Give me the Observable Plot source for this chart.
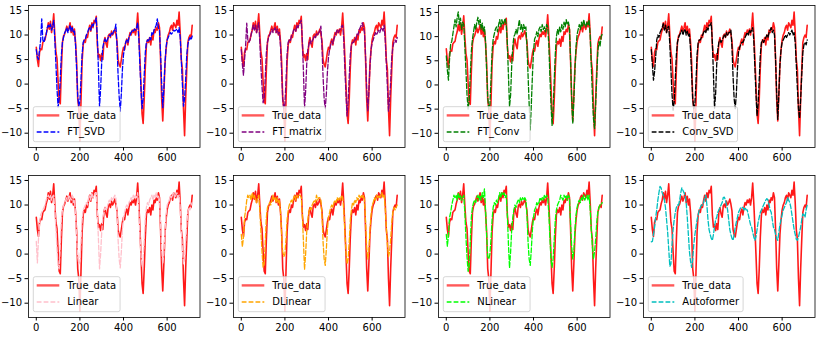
<!DOCTYPE html>
<html><head><meta charset="utf-8">
<script src="https://cdn.jsdelivr.net/npm/d3@7"></script>
<script src="https://cdn.jsdelivr.net/npm/@observablehq/plot@0.6"></script>
<style>
body{margin:0;background:#fff;}
#wrap{position:relative;width:822px;height:342px;font-family:"DejaVu Sans",sans-serif;}
.panel{position:absolute;width:205px;height:170px;}
</style></head><body><div id="wrap"></div>
<script>
const step = 5;
const trueData = [
7.5, 5.0, 3.6, 6.5, 7.2, 7.0, 8.5, 8.8, 9.0, 10.2, 11.0, 12.5,
11.2, 12.8, 10.5, 12.0, 14.3, 10.0, 6.5, 5.2, 0.5, -3.5, -4.0, 3.0,
8.5, 9.8, 10.2, 11.0, 11.8, 10.8, 11.5, 12.5, 10.5, 11.8, 10.0, 11.2,
8.5, 4.5, -3.0, -5.0, -11.6, -3.5, 4.5, 8.0, 9.0, 8.5, 10.0, 9.5,
11.0, 12.0, 10.8, 12.5, 11.5, 13.0, 12.5, 13.8, 8.0, 5.5, 6.0, 4.8,
6.2, 5.0, 8.5, 9.5, 8.2, 7.5, 9.8, 10.2, 9.5, 10.8, 10.0, 10.5,
11.2, 10.2, 8.8, 5.0, 4.0, 3.5, 5.0, 6.5, 7.5, 7.0, 8.5, 9.2,
8.0, 9.5, 10.5, 10.0, 11.0, 10.5, 11.2, 10.0, 11.5, 14.5, 10.5, 5.5,
0.0, -6.0, -8.0, -3.0, 3.5, 8.0, 9.0, 8.5, 9.5, 8.0, 10.0, 9.0,
11.0, 10.5, 11.5, 11.0, 12.5, 11.5, 5.0, -3.0, -7.5, -2.0, 4.0, 7.0,
9.0, 10.0, 10.5, 11.5, 12.0, 11.0, 12.5, 12.0, 11.5, 13.0, 12.0, 14.7,
10.5, 5.0, 3.0, -5.0, -10.5, -3.0, 3.0, 8.5, 9.5, 10.0, 9.5, 12.0];
const ftSVD = [
7.0, 5.5, 5.0, 7.0, 9.0, 13.3, 9.0, 8.5, 9.5, 10.0, 11.5, 12.0,
11.5, 12.2, 11.0, 11.8, 13.0, 9.0, 4.0, -1.0, -4.7, -3.0, 1.0, 6.0,
8.5, 9.5, 10.5, 10.8, 11.5, 10.5, 11.2, 12.0, 10.8, 11.5, 10.5, 10.8,
8.0, 3.0, -2.5, -4.5, -3.5, 1.0, 6.0, 8.5, 9.0, 9.2, 10.0, 10.5,
11.2, 11.5, 11.0, 12.2, 11.8, 12.5, 12.8, 13.5, 9.5, 3.0, -4.6, -1.0,
4.5, 7.5, 8.5, 9.2, 8.5, 9.0, 9.5, 10.0, 9.8, 10.5, 10.2, 10.8,
11.0, 12.2, 8.0, 2.0, -2.5, -5.5, -2.0, 3.0, 6.0, 7.5, 8.5, 9.0,
8.5, 9.5, 10.0, 10.5, 11.0, 10.8, 11.2, 11.0, 11.5, 12.5, 9.5, 4.0,
-1.0, -5.0, -3.0, 2.0, 6.5, 8.5, 9.0, 8.8, 9.5, 9.0, 10.5, 10.0,
11.0, 11.5, 12.0, 13.3, 11.5, 11.0, 6.0, 0.0, -4.8, -1.0, 4.0, 7.5,
9.0, 9.5, 10.0, 10.5, 10.2, 10.5, 11.0, 10.8, 11.0, 11.2, 10.5, 11.5,
9.5, 5.0, 0.0, -4.5, -3.0, 1.0, 6.0, 8.0, 9.0, 9.5, 9.0, 9.8];
const ftMatrix = [
7.0, 4.0, 1.8, 5.0, 8.0, 12.4, 9.0, 8.5, 9.0, 10.0, 11.0, 12.0,
11.0, 12.0, 10.5, 11.5, 12.5, 8.5, 3.5, -0.5, -3.8, -3.0, 1.5, 6.5,
8.5, 9.5, 10.0, 10.5, 11.2, 10.5, 11.0, 11.5, 10.5, 11.2, 10.2, 10.5,
7.5, 2.5, -3.0, -5.0, -4.0, 0.5, 6.0, 8.5, 9.0, 8.8, 9.8, 10.2,
11.0, 11.2, 10.8, 12.0, 11.5, 12.2, 12.5, 13.0, 9.0, 2.5, -4.8, -1.5,
4.0, 7.0, 8.0, 9.0, 8.2, 8.8, 9.2, 9.8, 9.5, 10.2, 10.0, 10.5,
10.8, 11.8, 7.5, 1.5, -3.0, -5.0, -2.0, 2.5, 5.5, 7.0, 8.0, 8.8,
8.2, 9.2, 9.8, 10.5, 11.0, 10.5, 11.0, 11.2, 11.8, 12.0, 9.0, 3.0,
-2.0, -6.5, -3.5, 1.5, 6.0, 8.0, 8.5, 8.5, 9.2, 9.0, 10.2, 10.0,
11.0, 11.5, 12.0, 12.5, 11.5, 10.5, 5.5, -1.0, -5.5, -1.5, 3.5, 7.0,
8.5, 9.0, 9.8, 10.5, 10.0, 10.5, 11.0, 10.5, 11.2, 11.5, 10.8, 12.0,
9.0, 4.5, -0.5, -5.5, -3.5, 0.5, 5.5, 7.5, 8.5, 9.0, 8.5, 9.5];
const ftConv = [
6.0, 3.0, 1.0, 5.5, 8.5, 9.0, 10.5, 12.0, 13.5, 12.0, 14.0, 15.1,
12.5, 13.8, 11.5, 13.0, 12.5, 8.0, 3.0, -2.0, -5.0, -3.0, 2.0, 7.0,
9.5, 11.0, 12.5, 11.5, 13.0, 14.0, 12.5, 13.5, 11.5, 12.8, 11.0, 12.0,
9.0, 3.0, -2.5, -5.0, -4.0, 1.0, 7.0, 9.5, 10.5, 11.5, 12.0, 11.0,
12.5, 13.5, 12.0, 13.5, 12.5, 13.0, 13.8, 12.5, 8.5, 2.0, -4.5, -2.0,
4.0, 8.0, 10.0, 10.5, 11.5, 10.5, 12.0, 13.5, 11.5, 12.5, 11.0, 12.5,
11.5, 12.0, 8.0, 2.0, -4.0, -9.3, -4.0, 2.0, 7.0, 9.5, 10.0, 11.0,
10.0, 11.5, 12.0, 11.0, 12.5, 11.5, 12.0, 11.0, 12.5, 12.0, 8.5, 2.0,
-4.0, -8.4, -5.0, 1.0, 6.5, 10.0, 11.5, 10.5, 12.0, 11.0, 12.5, 11.5,
13.0, 12.0, 13.5, 12.5, 13.0, 11.5, 5.0, -3.0, -8.0, -3.0, 3.0, 8.0,
10.5, 11.5, 12.5, 11.5, 13.0, 12.0, 13.5, 12.5, 12.0, 13.0, 12.5, 13.5,
10.0, 4.0, -2.0, -7.0, -9.0, -4.0, 2.0, 7.0, 9.0, 8.0, 10.0, 10.5];
const convSVD = [
7.0, 4.0, 0.8, 2.5, 5.5, 9.0, 10.0, 9.5, 10.5, 11.0, 11.5, 12.3,
11.0, 12.0, 10.5, 11.5, 11.8, 8.0, 3.0, -2.0, -5.3, -3.5, 1.0, 6.0,
8.5, 9.5, 10.0, 10.5, 11.0, 10.0, 10.8, 11.2, 10.0, 10.8, 9.8, 10.2,
7.0, 2.0, -3.0, -5.0, -4.0, 0.5, 6.0, 8.5, 9.0, 9.0, 9.5, 10.0,
10.5, 11.0, 10.5, 11.5, 11.0, 12.0, 12.0, 12.5, 8.5, 2.0, -4.9, -2.0,
4.0, 7.0, 8.5, 9.0, 8.5, 9.0, 9.5, 10.0, 9.5, 10.5, 10.0, 10.5,
10.5, 11.0, 7.5, 1.5, -3.0, -5.0, -2.0, 3.0, 6.5, 7.5, 8.0, 8.5,
8.5, 9.0, 9.5, 10.0, 10.5, 10.0, 11.0, 10.5, 11.0, 11.5, 9.0, 3.5,
-2.0, -6.5, -4.0, 1.0, 6.0, 8.5, 9.0, 8.5, 9.0, 9.5, 10.0, 9.5,
10.5, 11.0, 11.5, 10.5, 11.0, 10.0, 5.0, -2.0, -7.2, -2.0, 4.0, 7.0,
8.5, 9.0, 9.5, 10.0, 9.5, 10.0, 10.5, 10.0, 10.5, 11.0, 10.0, 10.5,
8.5, 4.0, -1.0, -5.0, -7.0, -3.0, 2.0, 6.5, 8.0, 8.5, 8.0, 9.0];
const linear = [
2.6, -1.8, 3.0, 6.5, 8.0, 8.5, 9.0, 9.5, 10.0, 11.0, 11.5, 12.0,
11.5, 12.0, 11.0, 11.8, 12.0, 9.0, 5.0, 1.0, -2.5, -3.0, 2.0, 7.0,
9.0, 10.0, 10.5, 11.0, 11.5, 11.0, 12.0, 11.5, 11.0, 12.0, 10.5, 11.0,
8.0, 3.5, -0.5, -2.0, -1.5, 2.5, 7.0, 9.0, 9.5, 10.0, 10.5, 10.0,
11.5, 12.0, 11.0, 12.5, 11.5, 12.0, 12.5, 12.5, 8.5, 3.0, -3.0, 0.0,
4.5, 7.5, 8.5, 9.5, 9.0, 9.5, 10.5, 11.0, 10.5, 11.5, 11.0, 11.5,
12.0, 11.5, 8.5, 3.0, -1.0, -2.8, 0.5, 5.0, 7.5, 8.5, 9.5, 10.0,
9.5, 10.5, 11.0, 11.5, 11.0, 12.0, 11.5, 12.0, 11.5, 12.5, 9.0, 4.0,
0.0, -2.5, -1.0, 3.0, 7.5, 9.5, 10.5, 10.0, 11.0, 11.5, 12.0, 11.0,
12.0, 11.5, 12.5, 11.5, 12.0, 11.0, 6.0, 1.0, -2.0, 0.0, 4.5, 8.0,
10.0, 10.5, 11.0, 12.0, 11.5, 12.0, 12.5, 11.5, 12.0, 12.5, 11.5, 12.0,
9.5, 5.0, 1.0, -2.0, -1.0, 2.5, 6.0, 8.5, 9.5, 9.0, 10.0, 10.5];
const dLinear = [
4.0, 1.5, 3.5, 7.5, 9.0, 11.0, 12.0, 11.5, 12.0, 11.0, 12.5, 11.5,
12.0, 11.0, 10.5, 11.5, 12.0, 9.0, 4.5, 0.5, -2.7, -2.0, 2.5, 7.5,
9.5, 10.0, 10.5, 10.0, 11.0, 12.0, 11.0, 11.5, 10.5, 11.5, 10.5, 11.0,
8.5, 4.0, 0.5, -0.5, 0.0, 3.0, 7.0, 9.0, 10.0, 10.5, 11.0, 10.5,
11.5, 12.0, 11.0, 12.0, 11.5, 12.0, 12.0, 11.5, 8.0, 2.5, -3.1, 0.0,
4.5, 7.0, 8.5, 9.5, 9.0, 10.0, 10.5, 11.0, 10.5, 12.0, 11.0, 11.5,
11.5, 11.0, 8.0, 2.5, -1.0, -2.3, 1.0, 5.0, 7.5, 8.5, 9.5, 10.0,
9.5, 10.5, 11.0, 10.5, 11.5, 11.0, 11.5, 11.0, 12.0, 11.5, 9.0, 4.5,
0.5, -2.0, -1.0, 2.5, 7.0, 9.0, 10.5, 10.0, 11.0, 10.5, 11.5, 11.0,
12.0, 11.5, 12.0, 11.5, 12.0, 11.0, 6.5, 1.5, -1.0, 0.5, 5.0, 8.0,
10.0, 10.5, 11.5, 11.0, 12.0, 11.5, 12.0, 11.5, 12.0, 12.5, 11.5, 12.0,
9.5, 5.5, 2.0, -0.5, 0.5, 3.0, 6.5, 8.5, 9.5, 9.0, 9.5, 10.0];
const nLinear = [
4.0, 1.6, 4.0, 7.5, 8.5, 10.0, 11.0, 12.0, 11.5, 12.0, 11.0, 12.5,
11.5, 12.0, 11.0, 11.5, 12.0, 8.5, 3.5, -0.5, -3.5, -2.5, 2.5, 7.5,
9.5, 10.5, 11.0, 10.5, 11.5, 12.0, 11.0, 12.0, 11.0, 12.5, 11.5, 13.3,
9.0, 4.0, -0.5, -1.0, 0.0, 3.0, 7.0, 9.5, 10.5, 10.0, 11.0, 10.5,
11.5, 12.5, 11.5, 12.5, 12.0, 12.5, 11.5, 12.0, 8.0, 2.0, -2.8, 0.5,
5.0, 7.5, 9.0, 10.0, 9.5, 10.5, 11.0, 10.5, 11.5, 11.0, 11.5, 11.0,
11.5, 11.0, 8.0, 2.5, -1.0, -2.3, 1.0, 5.0, 7.5, 9.0, 9.5, 10.5,
10.0, 10.5, 11.5, 11.0, 11.5, 11.0, 12.0, 11.5, 12.0, 11.5, 8.5, 3.5,
-1.0, -2.7, -1.0, 3.0, 7.0, 9.0, 10.0, 10.5, 11.0, 12.0, 11.5, 11.0,
12.0, 11.5, 12.0, 11.0, 12.0, 11.5, 6.0, 1.5, -1.0, 0.5, 5.0, 8.0,
9.5, 10.5, 11.0, 10.5, 11.5, 11.0, 12.0, 11.0, 11.5, 12.0, 11.0, 12.0,
9.0, 5.0, 1.5, -1.0, 0.5, 3.0, 6.5, 8.5, 9.5, 10.0, 10.0, 10.5];
const autoformer = [
2.5, 2.6, 4.0, 5.5, 7.5, 9.0, 11.0, 12.5, 13.8, 13.5, 12.5, 12.0,
11.0, 9.5, 7.0, 4.5, 1.0, -2.5, -2.0, 2.0, 5.0, 7.0, 8.5, 9.5,
10.0, 10.0, 11.0, 12.5, 13.5, 13.0, 12.5, 12.0, 10.5, 7.5, 4.0, 0.5,
-1.5, -2.7, -1.0, 2.0, 4.0, 5.5, 7.0, 8.0, 9.0, 9.5, 10.0, 10.0,
10.5, 11.5, 12.0, 10.0, 7.0, 5.0, 4.0, 3.2, 2.8, 4.0, 5.5, 7.0,
7.5, 8.5, 9.0, 9.5, 10.0, 10.5, 11.5, 11.6, 11.0, 10.0, 9.0, 7.0,
5.0, 4.0, 3.2, 2.8, 4.0, 5.5, 6.5, 7.5, 8.5, 9.0, 9.5, 9.5,
9.5, 9.0, 9.5, 9.0, 9.0, 8.0, 7.0, 6.0, 5.5, 4.5, 3.5, 2.8,
3.5, 5.0, 6.5, 7.5, 8.5, 9.0, 9.5, 10.0, 10.5, 11.0, 11.3, 11.0,
10.0, 9.0, 8.5, 7.0, 5.5, 5.0, 4.0, 3.2, 2.8, 4.5, 6.0, 7.0,
8.0, 9.0, 9.5, 10.0, 10.5, 11.5, 11.0, 10.5, 9.5, 8.0, 6.5, 5.0,
4.0, 3.0, 2.8, 3.5, 4.5, 5.5, 7.0, 8.2, 8.0, 7.5, 9.0, 10.0];

const models = ["FT_SVD", "FT_matrix", "FT_Conv", "Conv_SVD", "Linear", "DLinear", "NLinear", "Autoformer"];
const predictions = [ftSVD, ftMatrix, ftConv, convSVD, linear, dLinear, nLinear, autoformer];
const colors = ["blue", "purple", "green", "black", "pink", "orange", "lime", "#00bfbf"];
const xTicks = [0, 200, 400, 600];
const yTicks = [-10, -5, 0, 5, 10, 15];

[trueData, ...predictions].forEach((a, i) => { if (a.length !== trueData.length) throw new Error("length mismatch " + i + ": " + a.length); });

const W = 205, H = 170, ML = 28, MR = 5.5, MT = 5, MB = 23;
const fmt = d => d < 0 ? "\u2212" + Math.abs(d) : String(d);
const wrap = document.getElementById("wrap");

models.forEach((name, i) => {
  const pred = predictions[i];
  const rows = trueData.map((v, k) => ({t: k * step, y: v, p: pred[k]}));
  const [lo, hi] = d3.extent(trueData.concat(pred));
  const pad = (hi - lo) * 0.05;
  const xmax = (trueData.length - 1) * step;
  const xpad = xmax * 0.05;
  const chart = Plot.plot({
    width: W, height: H,
    marginLeft: ML, marginRight: MR, marginTop: MT, marginBottom: MB,
    style: {fontFamily: "DejaVu Sans, sans-serif", fontSize: "10px", color: "black", background: "transparent", overflow: "visible"},
    x: {domain: [-xpad, xmax + xpad], ticks: xTicks, tickFormat: fmt, tickSize: 3.5, tickPadding: 3, label: null},
    y: {domain: [lo - pad, hi + pad], ticks: yTicks, tickFormat: fmt, tickSize: 3.5, tickPadding: 3, label: null},
    marks: [
      Plot.lineY(rows, {x: "t", y: "y", stroke: "red", strokeOpacity: 0.9, strokeWidth: 1.6}),
      Plot.lineY(rows, {x: "t", y: "p", stroke: colors[i], strokeWidth: 1.3, strokeDasharray: "4.8,2.1"}),
      Plot.frame({stroke: "black", strokeWidth: 0.8})
    ]
  });
  const div = document.createElement("div");
  div.className = "panel";
  div.style.left = (205 * (i % 4)) + "px";
  div.style.top = (170 * Math.floor(i / 4)) + "px";
  div.appendChild(chart);
  wrap.appendChild(div);

  // legend inside the axes, lower-left
  const svg = d3.select(chart);
  const boxH = 35;
  const g = svg.append("g").attr("transform", `translate(${ML + 5.3},${H - MB - 5.3 - boxH})`)
    .attr("font-family", "DejaVu Sans, sans-serif").attr("font-size", 10).attr("text-anchor", "start");
  const rect = g.append("rect").attr("x", 0).attr("y", 0).attr("height", boxH).attr("rx", 2)
    .attr("fill", "white").attr("fill-opacity", 0.8).attr("stroke", "#cccccc").attr("stroke-width", 0.8);
  const entries = [
    {label: "True_data", color: "red", opacity: 0.65, width: 2.4, dash: null},
    {label: name, color: colors[i], opacity: 1, width: 1.3, dash: "4.8,2.1"}
  ];
  let maxW = 0;
  entries.forEach((e, j) => {
    const cy = 8.7 + j * 16.6;
    g.append("line").attr("x1", 3.4).attr("x2", 26).attr("y1", cy).attr("y2", cy)
      .attr("stroke", e.color).attr("stroke-opacity", e.opacity).attr("stroke-width", e.width)
      .attr("stroke-dasharray", e.dash);
    const t = g.append("text").attr("x", 34).attr("y", cy).attr("dy", "0.35em")
      .attr("text-anchor", "start").attr("fill", "black").text(e.label);
    maxW = Math.max(maxW, t.node().getComputedTextLength());
  });
  rect.attr("width", 34 + maxW + 4);
});
</script>
</body></html>
